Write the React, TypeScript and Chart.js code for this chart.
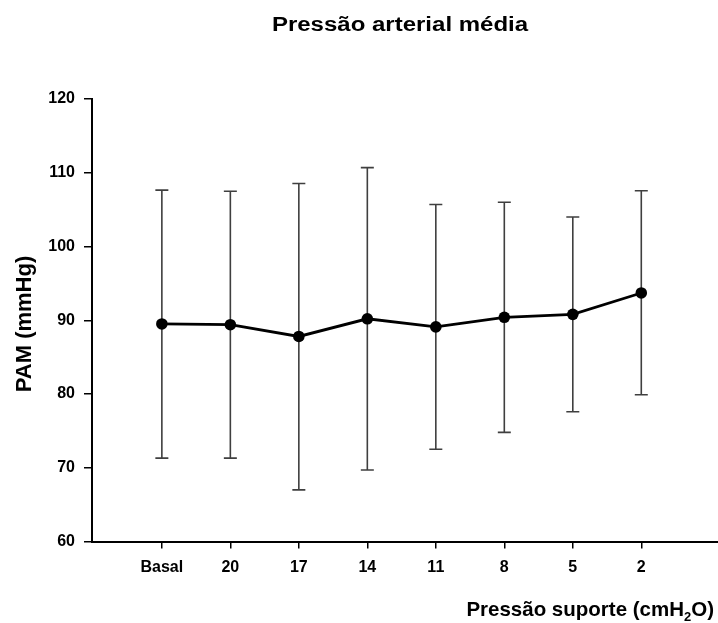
import React, { useEffect, useRef } from "react";
import { Chart, registerables } from "chart.js";

Chart.register(...registerables);

const categories = ["Basal", "20", "17", "14", "11", "8", "5", "2"];
const means = [89.5, 89.4, 87.8, 90.2, 89.1, 90.4, 90.8, 93.7];
const upper = [107.65, 107.5, 108.55, 110.7, 105.7, 106.0, 104.0, 107.55];
const lower = [71.3, 71.3, 67.0, 69.7, 72.5, 74.8, 77.6, 79.9];
const yTicks = [60, 70, 80, 90, 100, 110, 120];

const titleText = "Pressão arterial média";
const yTitle = "PAM (mmHg)";
const xTitleMain = "Pressão suporte (cmH";
const xTitleSub = "2";
const xTitleEnd = "O)";

const FONT = "'Liberation Sans', Arial, sans-serif";

const errorBarPlugin = {
  id: "errorBars",
  beforeDatasetsDraw(chart: any) {
    const ctx = chart.ctx;
    const xs = chart.scales.x;
    const ys = chart.scales.y;
    ctx.save();
    ctx.strokeStyle = "#3f3f3f";
    ctx.lineWidth = 1.6;
    for (let i = 0; i < means.length; i++) {
      const px = xs.getPixelForValue(i);
      const pu = ys.getPixelForValue(upper[i]);
      const pl = ys.getPixelForValue(lower[i]);
      ctx.beginPath();
      ctx.moveTo(px, pu);
      ctx.lineTo(px, pl);
      ctx.moveTo(px - 6.5, pu);
      ctx.lineTo(px + 6.5, pu);
      ctx.moveTo(px - 6.5, pl);
      ctx.lineTo(px + 6.5, pl);
      ctx.stroke();
    }
    ctx.restore();
  },
};

const textPlugin = {
  id: "texts",
  afterDraw(chart: any) {
    const ctx = chart.ctx;
    const area = chart.chartArea;
    ctx.save();
    ctx.fillStyle = "#000";
    ctx.textBaseline = "alphabetic";

    // main title
    ctx.save();
    ctx.font = `bold 20px ${FONT}`;
    ctx.textAlign = "center";
    ctx.translate((area.left + area.right) / 2 - 5, 31);
    ctx.scale(1.2, 1);
    ctx.fillText(titleText, 0, 0);
    ctx.restore();

    // y title
    ctx.save();
    ctx.font = `bold 22px ${FONT}`;
    ctx.translate(31, 324);
    ctx.rotate(-Math.PI / 2);
    ctx.textAlign = "center";
    ctx.fillText(yTitle, 0, 0);
    ctx.restore();

    // x title with subscript
    ctx.font = `bold 20.5px ${FONT}`;
    const w1 = ctx.measureText(xTitleMain).width;
    const w3 = ctx.measureText(xTitleEnd).width;
    ctx.font = `bold 13px ${FONT}`;
    const w2 = ctx.measureText(xTitleSub).width;
    const right = 714;
    const base = 616;
    let x = right - w1 - w2 - w3;
    ctx.textAlign = "left";
    ctx.font = `bold 20.5px ${FONT}`;
    ctx.fillText(xTitleMain, x, base);
    x += w1;
    ctx.font = `bold 13px ${FONT}`;
    ctx.fillText(xTitleSub, x, base + 5);
    x += w2;
    ctx.font = `bold 20.5px ${FONT}`;
    ctx.fillText(xTitleEnd, x, base);
    ctx.restore();
  },
};

export default function App() {
  const ref = useRef<HTMLCanvasElement | null>(null);
  useEffect(() => {
    if (!ref.current) return;
    const chart = new Chart(ref.current, {
      type: "line",
      data: {
        datasets: [
          {
            data: means.map((m, i) => ({ x: i, y: m })),
            borderColor: "#000",
            backgroundColor: "#000",
            borderWidth: 2.8,
            pointRadius: 5.8,
            pointBackgroundColor: "#000",
            pointBorderColor: "#000",
            pointBorderWidth: 0,
            tension: 0,
            clip: false,
          },
        ],
      },
      options: {
        responsive: false,
        animation: false,
        events: [],
        layout: { autoPadding: false, padding: { top: 99, left: 0, right: 0, bottom: 0 } },
        plugins: {
          legend: { display: false },
          title: { display: false },
          tooltip: { enabled: false },
        },
        scales: {
          x: {
            type: "linear",
            min: -1.02,
            max: 8.12,
            afterBuildTicks: (scale: any) => {
              scale.ticks = categories.map((_, i) => ({ value: i }));
            },
            afterFit: (scale: any) => {
              scale.height = 81.5;
            },
            ticks: {
              callback: (v: any) => categories[v] ?? "",
              color: "#000",
              font: { family: FONT, size: 16, weight: "bold" },
              padding: 9,
              maxRotation: 0,
              autoSkip: false,
            },
            grid: {
              display: true,
              drawOnChartArea: false,
              drawTicks: true,
              tickLength: 7,
              color: "#000",
              lineWidth: 1.5,
            },
            border: { display: true, color: "#000", width: 2 },
          },
          y: {
            type: "linear",
            min: 60,
            max: 120,
            afterBuildTicks: (scale: any) => {
              scale.ticks = yTicks.map((v) => ({ value: v }));
            },
            afterFit: (scale: any) => {
              scale.width = 92;
            },
            ticks: {
              color: "#000",
              font: { family: FONT, size: 16, weight: "bold" },
              padding: 9,
            },
            grid: {
              display: true,
              drawOnChartArea: false,
              drawTicks: true,
              tickLength: 8,
              color: "#000",
              lineWidth: 1.5,
            },
            border: { display: true, color: "#000", width: 2 },
          },
        },
      },
      plugins: [errorBarPlugin, textPlugin],
    } as any);
    return () => chart.destroy();
  }, []);
  return (
    <div style={{ position: "absolute", left: 0, top: 0, width: 718, height: 623, background: "#fff" }}>
      <canvas ref={ref} width={718} height={623} style={{ display: "block" }} />
    </div>
  );
}
